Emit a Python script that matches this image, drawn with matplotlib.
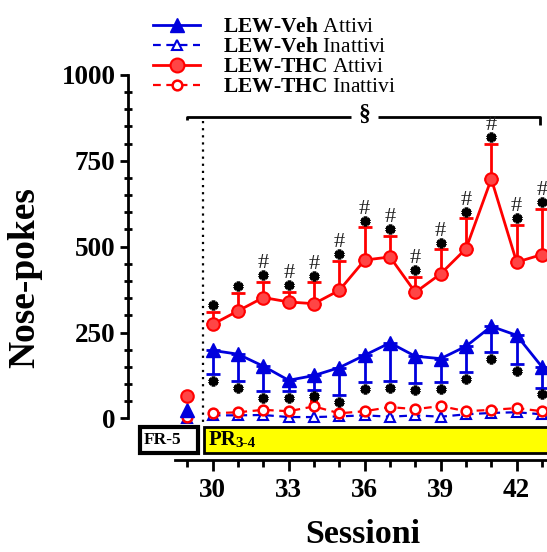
import numpy as np
import matplotlib.pyplot as plt
from matplotlib.patches import Rectangle
from matplotlib.lines import Line2D

plt.rcParams['font.family'] = ['Liberation Serif', 'DejaVu Serif']
plt.rcParams['mathtext.fontset'] = 'custom'
plt.rcParams['mathtext.rm'] = 'Liberation Serif'
plt.rcParams['mathtext.bf'] = 'Liberation Serif:bold'

# FR-5 session (29) and PR sessions (30-43)
fr_session = 29
fr_veh_att = 25
fr_thc_att = 65
fr_veh_inatt = 2
fr_thc_inatt = 3

sessions = np.arange(30, 44)
veh_att = np.array([198, 187, 152, 111, 125, 148, 184, 220, 181, 174, 210, 268, 242, 150])
veh_att_sem = np.array([68, 79, 73, 32, 41, 79, 78, 111, 78, 68, 75, 75, 85, 60])
thc_att = np.array([274, 313, 352, 339, 334, 373, 461, 470, 367, 421, 494, 697, 455, 477])
thc_att_sem = np.array([36, 52, 45, 29, 62, 85, 95, 61, 45, 71, 88, 102, 108, 134])
veh_inatt = np.array([9, 9, 10, 4, 4, 6, 9, 5, 9, 5, 12, 16, 18, 12])
thc_inatt = np.array([15, 18, 25, 21, 35, 15, 21, 33, 27, 36, 21, 25, 30, 21])
thc_inatt_sem = np.array([4, 4, 4, 4, 17, 4, 4, 4, 4, 7, 4, 4, 4, 4])
hash_mark = sessions >= 32

blue = '#0000dd'
red = '#ff0000'
red_fill = '#ff4545'

fig = plt.figure(figsize=(5.47, 5.52), dpi=100)
ax = fig.add_axes([128/547, 92/552, 419/547, 460/552])

# inactive
ax.plot(sessions, veh_inatt, ls=(0, (3.5, 2.5)), lw=1.6, color=blue, marker='^',
        ms=6.5, mfc='white', mec=blue, mew=1.5, zorder=3)
ax.errorbar(sessions, thc_inatt, yerr=[np.zeros_like(thc_inatt_sem), thc_inatt_sem],
            fmt='none', ecolor=red, elinewidth=1.5, capsize=3, capthick=1.5, zorder=3)
ax.plot(sessions, thc_inatt, ls=(0, (3.5, 2.5)), lw=1.6, color=red, marker='o',
        ms=7, mfc='white', mec=red, mew=1.8, zorder=4)

# active
ax.errorbar(sessions, veh_att, yerr=[veh_att_sem, np.zeros_like(veh_att_sem)],
            fmt='none', ecolor=blue, elinewidth=2, capsize=4.7, capthick=2, zorder=4)
ax.plot(sessions, veh_att, '-', lw=2, color=blue, marker='^', ms=10, mfc=blue, mec=blue, zorder=5)
ax.errorbar(sessions, thc_att, yerr=[np.zeros_like(thc_att_sem), thc_att_sem],
            fmt='none', ecolor=red, elinewidth=2, capsize=4.7, capthick=2, zorder=4)
ax.plot(sessions, thc_att, '-', lw=2, color=red, marker='o', ms=9, mfc=red_fill, mec=red,
        mew=1.5, zorder=5)

# FR-5 points
ax.plot([fr_session], [fr_veh_inatt], ls='none', marker='^', ms=6.5, mfc='white', mec=blue, mew=1.5, zorder=3)
ax.plot([fr_session], [fr_thc_inatt], ls='none', marker='o', ms=7, mfc='white', mec=red, mew=1.8, zorder=4)
ax.plot([fr_session], [fr_veh_att], ls='none', marker='^', ms=10, color=blue, zorder=5)
ax.plot([fr_session], [fr_thc_att], ls='none', marker='o', ms=9, mfc=red_fill, mec=red, mew=1.5, zorder=5)

# significance marks
star = (6, 2, 0)
ax.plot(sessions, veh_att - veh_att_sem - 20, ls='none', marker=star, ms=7, mew=2.6, color='k', zorder=6)
ax.plot(sessions, thc_att + thc_att_sem + 20, ls='none', marker=star, ms=7, mew=2.6, color='k', zorder=6)
for s, m, e, h in zip(sessions, thc_att, thc_att_sem, hash_mark):
    if h:
        ax.text(s, m + e + 53, '#', ha='center', va='center', fontsize=16, color='#222222')

# bracket and section sign
ax.plot([29, 29, 35.46], [869, 878, 878], color='k', lw=2, solid_capstyle='butt')
ax.plot([36.53, 42.92, 42.92], [878, 878, 854], color='k', lw=2, solid_capstyle='butt')
ax.text(36.0, 884, '§', ha='center', va='center', fontsize=17, fontweight='bold')
ax.plot([29.6, 29.6], [866, -15], color='k', lw=1.6, ls=(0, (1, 2.2)))

# phase boxes
ax.add_patch(Rectangle((27.13, -102), 2.29, 76, facecolor='white', edgecolor='k', lw=3, zorder=2))
ax.add_patch(Rectangle((29.66, -102), 14.5, 76, facecolor='#ffff00', edgecolor='k', lw=2, zorder=2))
ax.text(27.28, -64, 'FR-5', ha='left', va='center', fontsize=12.5, fontweight='bold')
ax.text(29.85, -62, 'PR', ha='left', va='center', fontsize=15, fontweight='bold')
ax.text(30.88, -72, '3-4', ha='left', va='center', fontsize=11, fontweight='bold')

# axes
ax.set_xlim(26.656, 43.198)
ax.set_ylim(-121, 1218)
for side in ['top', 'right']:
    ax.spines[side].set_visible(False)
ax.spines['left'].set_bounds(0, 1000)
ax.spines['bottom'].set_bounds(28.51, 43.198)
ax.spines['left'].set_linewidth(2)
ax.spines['bottom'].set_linewidth(2)
ax.set_yticks([0, 250, 500, 750, 1000])
ax.set_yticks(np.arange(0, 1001, 50), minor=True)
ax.set_xticks([30, 33, 36, 39, 42])
ax.set_xticks(np.arange(29, 44), minor=True)
ax.tick_params(axis='y', which='major', direction='out', length=6, width=2, pad=3, labelsize=19.5)
ax.tick_params(axis='y', which='minor', direction='inout', length=6, width=2)
ax.tick_params(axis='x', which='major', direction='out', length=8, width=2, pad=5, labelsize=19.5)
ax.tick_params(axis='x', which='minor', direction='out', length=5, width=2)
for lab in ax.get_xticklabels() + ax.get_yticklabels():
    lab.set_fontweight('bold')

ax.set_ylabel('Nose-pokes', fontsize=27, fontweight='bold')
ax.yaxis.set_label_coords(-0.205, 0.397)
ax.set_xlabel('Sessioni', fontsize=24.5, fontweight='bold', va='baseline')
ax.xaxis.set_label_coords(0.561, (460 - 543) / 460)

handles = [
    Line2D([], [], color=blue, lw=2, marker='^', ms=10),
    Line2D([], [], color=blue, lw=1.6, ls=(0, (3.5, 2.5)), marker='^', ms=6.5, mfc='white', mew=1.5),
    Line2D([], [], color=red, lw=2, marker='o', ms=10, mfc=red_fill, mew=1.5),
    Line2D([], [], color=red, lw=1.6, ls=(0, (3.5, 2.5)), marker='o', ms=7, mfc='white', mew=1.8),
]
labels = [
    r'$\mathbf{LEW}$-$\mathbf{Veh}$ Attivi',
    r'$\mathbf{LEW}$-$\mathbf{Veh}$ Inattivi',
    r'$\mathbf{LEW}$-$\mathbf{THC}$ Attivi',
    r'$\mathbf{LEW}$-$\mathbf{THC}$ Inattivi',
]
fig.legend(handles, labels, loc='upper left', bbox_to_anchor=(153/547, 1 - 17/552),
           frameon=False, fontsize=15.5, handlelength=2.2, handletextpad=1.05,
           labelspacing=0.0, borderpad=0, borderaxespad=0)

fig.savefig('out.png', dpi=100)
